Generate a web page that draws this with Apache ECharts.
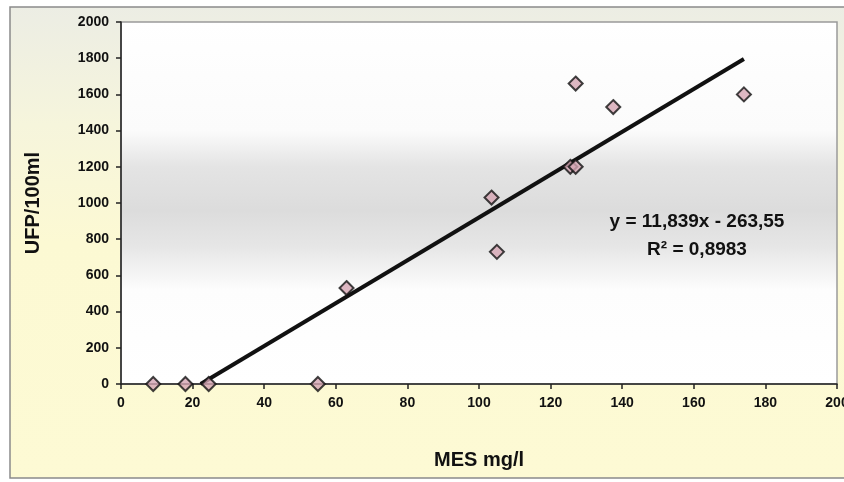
<!DOCTYPE html>
<html>
<head>
<meta charset="utf-8">
<style>
html,body{margin:0;padding:0;background:#fff;}
#chart{width:844px;height:482px;}
</style>
<script src="https://cdn.jsdelivr.net/npm/echarts@6/dist/echarts.min.js"></script>
</head>
<body>
<div id="chart"></div>
<script>
// Data
const mes = [9, 18, 24.5, 55, 63, 103.5, 105, 125.5, 127, 127, 137.5, 174];
const ufp = [0, 0, 0, 0, 530, 1030, 730, 1200, 1200, 1660, 1530, 1600];
// Trend line end points (y = 11,839x - 263,55)
const trendX = [22.26, 174];
const trendY = [0, 1796];
const xTicks = [0, 20, 40, 60, 80, 100, 120, 140, 160, 180, 200];
const yTicks = [0, 200, 400, 600, 800, 1000, 1200, 1400, 1600, 1800, 2000];
const equationText = 'y = 11,839x - 263,55';
const r2Text = 'R² = 0,8983';
const xTitle = 'MES mg/l';
const yTitle = 'UFP/100ml';

const FONT = '"Liberation Sans", Arial, sans-serif';
const chart = echarts.init(document.getElementById('chart'), null, {renderer: 'canvas'});

const points = mes.map((x, i) => [x, ufp[i]]);
const trend = trendX.map((x, i) => [x, trendY[i]]);

chart.setOption({
  animation: false,
  backgroundColor: '#ffffff',
  graphic: [
    {
      type: 'rect', z: -10, silent: true,
      shape: {x: 10, y: 7, width: 850, height: 471},
      style: {
        fill: new echarts.graphic.LinearGradient(0, 0, 0, 1, [
          {offset: 0, color: '#ecede4'},
          {offset: 0.25, color: '#f6f5dc'},
          {offset: 0.5, color: '#fcf9d3'},
          {offset: 1, color: '#fdfad4'}
        ]),
        stroke: '#8a8a8a', lineWidth: 1.5
      }
    },
    {
      type: 'text', z: 10, x: 697, y: 222,
      style: {
        text: equationText,
        font: 'bold 19px ' + FONT,
        fill: '#111', align: 'center', verticalAlign: 'middle'
      }
    },
    {
      type: 'text', z: 10, x: 697, y: 250,
      style: {
        text: r2Text,
        font: 'bold 19px ' + FONT,
        fill: '#111', align: 'center', verticalAlign: 'middle'
      }
    }
  ],
  grid: {
    left: 121, top: 22, right: 7, bottom: 98,
    outerBoundsMode: 'none',
    containLabel: false,
    show: true,
    borderColor: '#9a9a9a', borderWidth: 1.5,
    backgroundColor: new echarts.graphic.LinearGradient(0, 0, 0, 1, [
      {offset: 0, color: '#ffffff'},
      {offset: 0.3, color: '#fbfbfb'},
      {offset: 0.4, color: '#e4e4e4'},
      {offset: 0.52, color: '#dcdcdc'},
      {offset: 0.62, color: '#e6e6e6'},
      {offset: 0.74, color: '#fdfdfd'},
      {offset: 1, color: '#ffffff'}
    ])
  },
  xAxis: {
    type: 'value', min: 0, max: 200, interval: 20,
    name: xTitle, nameLocation: 'middle', nameGap: 66,
    nameTextStyle: {fontFamily: FONT, fontWeight: 'bold', fontSize: 20, color: '#111'},
    axisLine: {show: true, lineStyle: {color: '#222', width: 1.5}},
    axisTick: {show: true, length: 5, lineStyle: {color: '#222', width: 1.5}},
    axisLabel: {
      margin: 12, fontFamily: FONT, fontWeight: 'bold', fontSize: 14, color: '#111',
      formatter: v => xTicks.includes(v) ? String(v) : ''
    },
    splitLine: {show: false}
  },
  yAxis: {
    type: 'value', min: 0, max: 2000, interval: 200,
    name: yTitle, nameLocation: 'middle', nameGap: 78, nameRotate: 90,
    nameTextStyle: {fontFamily: FONT, fontWeight: 'bold', fontSize: 20, color: '#111'},
    axisLine: {show: true, lineStyle: {color: '#222', width: 1.5}},
    axisTick: {show: true, length: 5, lineStyle: {color: '#222', width: 1.5}},
    axisLabel: {
      margin: 12, fontFamily: FONT, fontWeight: 'bold', fontSize: 14, color: '#111',
      formatter: v => yTicks.includes(v) ? String(v) : ''
    },
    splitLine: {show: false}
  },
  series: [
    {
      type: 'line',
      data: trend,
      symbol: 'none',
      lineStyle: {color: '#111', width: 4},
      z: 2,
      silent: true
    },
    {
      type: 'scatter',
      data: points,
      symbol: 'diamond',
      symbolSize: 14,
      itemStyle: {color: '#d4a5b3', borderColor: '#111', borderWidth: 2},
      z: 3,
      clip: false
    }
  ]
});
</script>
</body>
</html>
